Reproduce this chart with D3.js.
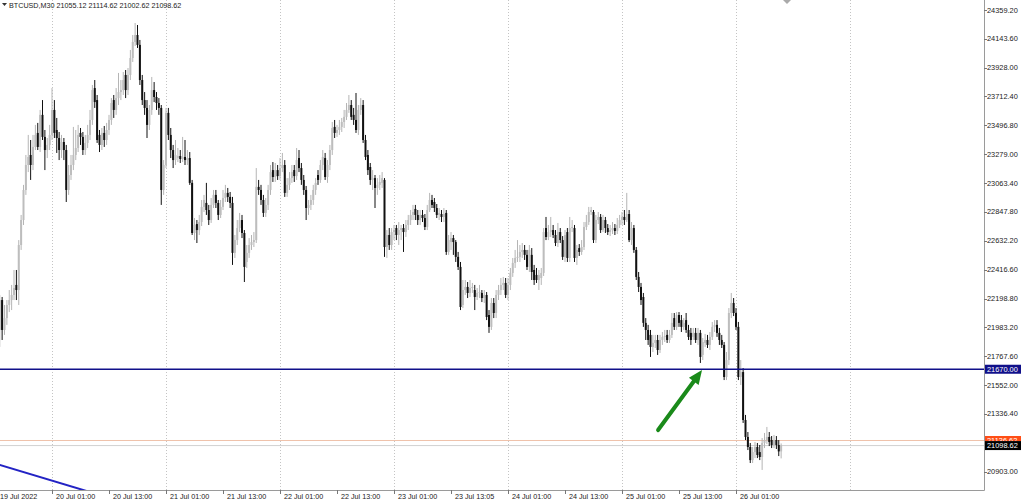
<!DOCTYPE html>
<html>
<head>
<meta charset="utf-8">
<script src="https://cdn.jsdelivr.net/npm/d3@7"></script>
<style>
  html, body { margin: 0; padding: 0; background: #fff; }
  svg { display: block; }
  text { font-family: "Liberation Sans", Arial, sans-serif; }
</style>
</head>
<body>
<div id="chart"></div>
<script>
// BTCUSD M30 candles (bar 0 = left edge)
var opens = [
  21964,22188,21964,22053,22151,22188,22226,22301,22263,22600,22787,23012,23199,23274,23199,23334,23439,23334,23574,23409,
  23311,23349,23424,23611,23461,23401,23311,23371,23311,23012,23124,23199,23274,23326,23439,23409,23311,23364,23424,23536,
  23775,23685,23424,23349,23439,23386,23461,23536,23685,23611,23700,23745,23760,23873,23760,23873,24000,24120,24172,24098,
  23835,23685,23626,23499,23611,23760,23708,23663,23626,23012,23199,23589,23424,23311,23236,23251,23266,23244,23259,23236,
  23251,23065,22690,22757,22712,22772,22885,22915,22862,22787,22900,22975,22915,22825,22885,22952,22990,22960,22915,22541,
  22637,22727,22787,22690,22473,22541,22600,22622,22637,23035,23012,22937,22840,22900,23012,23161,23109,23161,23116,23176,
  23199,22990,23050,23101,23161,23116,23251,23176,23087,23012,22877,22900,22937,23012,23124,23087,23199,23251,23109,23199,
  23311,23484,23439,23461,23484,23521,23559,23611,23648,23574,23536,23461,23611,23648,23386,23274,23184,23087,23101,23027,
  23050,23065,23087,22585,22675,22600,22697,22727,22675,22712,22727,22697,22750,22787,22825,22870,22825,22787,22825,22802,
  22735,22862,22937,22922,22877,22825,22832,22810,22840,22548,22622,22652,22622,22511,22436,22151,22263,22286,22241,22278,
  22263,22211,22241,22241,22203,22226,22076,21987,22166,22091,22226,22263,22301,22316,22226,22301,22391,22466,22503,22511,
  22548,22563,22526,22436,22526,22413,22376,22338,22353,22391,22727,22660,22697,22712,22675,22615,22697,22637,22511,22697,
  22503,22727,22727,22503,22577,22548,22585,22735,22772,22847,22847,22637,22787,22810,22712,22787,22727,22697,22712,22727,
  22705,22750,22787,22810,22787,22832,22637,22727,22563,22361,22286,22211,22017,21964,21927,21837,21867,21889,21814,21889,
  21912,21927,21889,21927,22053,21987,22076,22038,21987,22038,21964,21942,21912,21942,21889,21942,21777,21867,21889,21852,
  21912,21987,22002,21942,21889,21852,21612,21739,22091,22166,22091,21987,21612,21649,21290,21163,21088,20990,21050,21088,
  21050,21013,21118,21140,21163,21140,21103,21140,21103,21055.12
];
var highs = [
  22226,22211,22151,22188,22263,22301,22413,22413,22637,22825,23050,23274,23424,23386,23424,23499,23514,23611,23685,23461,
  23401,23499,23775,23685,23551,23446,23424,23401,23349,23199,23274,23484,23461,23499,23476,23446,23424,23499,23611,23798,
  23835,23723,23461,23476,23491,23514,23574,23700,23723,23775,23888,23835,23895,23910,23925,24060,24172,24262,24247,24135,
  23873,23745,23685,23648,23858,23820,23745,23700,23648,23236,23626,23626,23476,23349,23386,23326,23311,23409,23386,23311,
  23296,23087,22802,22787,22825,22937,22975,23065,22900,22952,23012,23012,22937,22937,23012,23050,23027,22997,22960,22675,
  22787,22840,22825,22712,22600,22652,22675,22697,23176,23087,23050,22975,22952,23050,23199,23221,23214,23199,23251,23289,
  23236,23101,23146,23199,23199,23326,23311,23214,23124,23042,22937,22975,23050,23101,23161,23236,23311,23289,23236,23349,
  23521,23536,23499,23536,23551,23611,23663,23723,23685,23626,23738,23648,23700,23685,23424,23311,23214,23161,23124,23101,
  23124,23146,23101,22712,22727,22727,22750,22750,22772,22750,22757,22787,22825,22862,22900,22900,22862,22862,22862,22832,
  22900,22990,22975,22952,22907,22877,22862,22877,22862,22675,22697,22675,22637,22548,22473,22338,22338,22323,22338,22316,
  22301,22278,22301,22263,22263,22248,22113,22203,22203,22263,22301,22353,22361,22353,22353,22428,22503,22563,22637,22600,
  22615,22600,22563,22600,22577,22451,22428,22413,22428,22727,22810,22750,22810,22750,22712,22765,22727,22667,22712,22727,
  22810,22787,22750,22600,22607,22637,22772,22825,22885,22885,22862,22825,22847,22832,22825,22810,22757,22750,22772,22757,
  22802,22825,22847,22862,22990,22862,22772,22750,22585,22398,22316,22241,22053,22002,21964,21927,21927,21927,21927,21949,
  21964,21964,21964,22091,22091,22098,22098,22076,22053,22091,22002,21979,21979,21979,21979,21964,21904,21934,21927,21949,
  22024,22038,22038,21979,21927,21874,21799,22128,22241,22203,22128,22024,21739,21679,21328,21200,21118,21088,21125,21118,
  21103,21155,21193,21238,21200,21170,21178,21170,21140,21114.62
];
var lows = [
  21837,21889,21927,22002,22098,22113,22188,22188,22151,22563,22750,22975,23146,23087,23161,23311,23311,23296,23386,23161,
  23251,23311,23386,23401,23289,23236,23251,23236,22922,22975,23087,23161,23236,23296,23349,23274,23274,23326,23386,23499,
  23626,23364,23296,23311,23334,23349,23424,23499,23551,23574,23648,23685,23723,23700,23723,23835,23970,24090,24075,23798,
  23648,23574,23401,23461,23574,23670,23611,23574,22900,22975,23176,23386,23251,23176,23199,23221,23214,23221,23199,23199,
  23050,22675,22637,22615,22675,22742,22847,22825,22750,22765,22877,22877,22787,22802,22862,22922,22922,22877,22451,22503,
  22600,22697,22652,22323,22428,22503,22563,22585,22615,22975,22900,22810,22810,22862,22975,23072,23072,23087,23087,23146,
  22960,22960,23012,23065,23072,23087,23146,23050,22975,22787,22825,22862,22900,22975,23050,23065,23161,23087,23065,23161,
  23274,23401,23409,23424,23446,23476,23536,23589,23536,23499,23439,23424,23574,23364,23236,23124,23050,23012,22877,22975,
  23012,23027,22511,22503,22563,22563,22637,22637,22600,22637,22548,22660,22712,22750,22787,22787,22750,22750,22772,22712,
  22712,22847,22877,22847,22802,22787,22772,22772,22526,22526,22563,22526,22473,22413,22113,22128,22226,22203,22211,22241,
  22113,22188,22203,22173,22166,22038,21942,21964,22053,22053,22188,22226,22263,22203,22188,22263,22361,22428,22473,22473,
  22503,22488,22413,22398,22338,22301,22316,22263,22301,22368,22637,22637,22660,22652,22592,22585,22615,22488,22473,22473,
  22473,22697,22473,22451,22518,22526,22563,22712,22750,22825,22615,22615,22757,22690,22697,22690,22675,22667,22682,22675,
  22682,22727,22750,22750,22772,22622,22600,22541,22338,22248,22151,21987,21889,21852,21762,21799,21829,21777,21792,21852,
  21874,21867,21867,21904,21964,21964,21987,21949,21964,21942,21889,21852,21889,21867,21852,21717,21739,21837,21829,21814,
  21889,21949,21912,21852,21829,21589,21589,21702,22053,22068,21964,21589,21552,21268,21140,21065,20968,20968,21005,21005,
  20990,20916,21080,21110,21095,21080,21080,21073,21020,21002.62
];
var closes = [
  22188,21964,22053,22151,22188,22226,22278,22263,22600,22787,23012,23199,23259,23199,23334,23424,23334,23574,23409,23311,
  23349,23424,23611,23439,23401,23311,23371,23311,23012,23124,23199,23274,23326,23424,23409,23311,23364,23424,23536,23760,
  23670,23386,23349,23439,23386,23461,23536,23663,23611,23700,23745,23760,23835,23760,23873,24000,24120,24172,24098,23835,
  23685,23626,23499,23611,23760,23708,23663,23626,23012,23199,23589,23424,23311,23236,23274,23266,23244,23259,23236,23251,
  23065,22690,22750,22712,22772,22885,22937,22862,22787,22900,22975,22915,22825,22885,22952,22990,22960,22915,22541,22637,
  22727,22787,22690,22436,22541,22600,22622,22637,23035,23012,22937,22840,22900,23012,23146,23109,23161,23116,23176,23199,
  22990,23050,23101,23146,23116,23236,23176,23087,23012,22877,22900,22937,23012,23065,23087,23199,23259,23109,23199,23311,
  23476,23439,23461,23484,23521,23559,23611,23648,23559,23536,23461,23611,23648,23386,23259,23161,23087,23101,23027,23050,
  23072,23101,22585,22675,22600,22697,22712,22675,22712,22727,22697,22750,22787,22825,22847,22825,22787,22825,22802,22735,
  22862,22937,22900,22877,22825,22840,22810,22832,22548,22637,22652,22622,22511,22436,22136,22263,22286,22241,22278,22286,
  22211,22241,22248,22203,22226,22061,21987,22166,22091,22226,22263,22301,22316,22226,22301,22391,22466,22503,22511,22548,
  22563,22526,22436,22563,22398,22338,22338,22376,22391,22697,22660,22697,22712,22675,22615,22697,22637,22511,22675,22503,
  22727,22735,22503,22563,22548,22585,22735,22772,22847,22862,22637,22787,22810,22712,22787,22727,22697,22712,22727,22705,
  22750,22787,22810,22787,22832,22637,22727,22563,22361,22286,22188,22017,21964,21889,21837,21867,21889,21814,21889,21912,
  21919,21889,21927,22017,21987,22076,22017,21987,22017,21964,21912,21889,21942,21889,21942,21762,21874,21889,21852,21912,
  21987,22002,21942,21889,21852,21612,21739,22091,22166,22091,21987,21612,21649,21290,21163,21088,20990,21050,21088,21028,
  21013,21118,21140,21163,21125,21103,21140,21103,21055,21098.62
];

// price axis labels (MT4 rounds them unevenly); the one behind the price tags is not shown
var priceTicks = [24359.20, 24143.60, 23928.00, 23712.40, 23496.80, 23279.00, 23063.40, 22847.80, 22632.20,
  22416.60, 22198.80, 21983.20, 21767.60, 21552.00, 21336.40, 20903.00];

// time axis labels and the bar they sit on
var timeLabels = ['19 Jul 2022', '20 Jul 01:00', '20 Jul 13:00', '21 Jul 01:00', '21 Jul 13:00', '22 Jul 01:00',
  '22 Jul 13:00', '23 Jul 01:00', '23 Jul 13:05', '24 Jul 01:00', '24 Jul 13:00', '25 Jul 01:00', '25 Jul 13:00', '26 Jul 01:00'];
var timeLabelBars = [-2, 22, 46, 70, 94, 118, 142, 166, 190, 214, 238, 262, 286, 310];
var dayGridBars = [22, 70, 118, 166, 214, 262, 310, 358];

var levelPrice = 21670.00;
var bidPrice = 21098.62;
var askPrice = 21136.62;
var trendLine = [[0, 20954], [40, 20740]];
var arrowPts = [[277.2, 21215], [295.7, 21664]];

var svgWidth = 1024;
var svgHeight = 501;
var plot = { left: 0, top: 0, right: 984, bottom: 490 };

var svg = d3.select('#chart')
    .append('svg')
    .attr('width', svgWidth)
    .attr('height', svgHeight);

svg.append('rect')
    .attr('width', svgWidth)
    .attr('height', svgHeight)
    .attr('fill', '#fff');

// scales
var barStep = 2.375;
var xScale = d3.scaleLinear()
    .domain([0, 329])
    .range([-0.25, -0.25 + 329 * barStep]);

var yScale = d3.scaleLinear()
    .domain([24434.1, 20766])
    .range([plot.top, plot.bottom]);

var defs = svg.append('defs');
defs.append('clipPath')
    .attr('id', 'plotClip')
    .append('rect')
    .attr('x', plot.left)
    .attr('y', plot.top)
    .attr('width', plot.right - plot.left)
    .attr('height', plot.bottom - plot.top);

var chartGroup = svg.append('g').attr('clip-path', 'url(#plotClip)');

// day grid lines
chartGroup.selectAll('.vgrid')
    .data(dayGridBars)
    .enter()
    .append('line')
    .attr('x1', d => Math.round(xScale(d)) + 0.5)
    .attr('x2', d => Math.round(xScale(d)) + 0.5)
    .attr('y1', plot.top)
    .attr('y2', plot.bottom)
    .attr('stroke', '#c4c4c4')
    .attr('stroke-dasharray', '1,2');

// bid / ask lines
chartGroup.append('line')
    .attr('x1', plot.left).attr('x2', plot.right)
    .attr('y1', yScale(askPrice)).attr('y2', yScale(askPrice))
    .attr('stroke', '#efc2ab')
    .attr('stroke-width', 1);

chartGroup.append('line')
    .attr('x1', plot.left).attr('x2', plot.right)
    .attr('y1', yScale(bidPrice)).attr('y2', yScale(bidPrice))
    .attr('stroke', '#d2d2d2')
    .attr('stroke-width', 1);

// candles
var bars = opens.map(function(o, i) {
    return { i: i, o: o, h: highs[i], l: lows[i], c: closes[i] };
});

var candles = chartGroup.selectAll('.candle')
    .data(bars)
    .enter()
    .append('g');

candles.append('line')
    .attr('x1', d => xScale(d.i))
    .attr('x2', d => xScale(d.i))
    .attr('y1', d => yScale(d.h))
    .attr('y2', d => yScale(d.l))
    .attr('stroke', d => d.c >= d.o ? '#b5b5b5' : '#111')
    .attr('stroke-width', 1);

candles.append('rect')
    .attr('x', d => xScale(d.i) - 1)
    .attr('width', 2)
    .attr('y', d => yScale(Math.max(d.o, d.c)))
    .attr('height', d => Math.max(0.8, yScale(Math.min(d.o, d.c)) - yScale(Math.max(d.o, d.c))))
    .attr('fill', d => d.c >= d.o ? '#bdbdbd' : '#111');

// horizontal level
chartGroup.append('line')
    .attr('x1', plot.left).attr('x2', plot.right)
    .attr('y1', yScale(levelPrice)).attr('y2', yScale(levelPrice))
    .attr('stroke', '#10108a')
    .attr('stroke-width', 1.4);

// trend line
chartGroup.append('line')
    .attr('x1', xScale(trendLine[0][0])).attr('y1', yScale(trendLine[0][1]))
    .attr('x2', xScale(trendLine[1][0])).attr('y2', yScale(trendLine[1][1]))
    .attr('stroke', '#2323c4')
    .attr('stroke-width', 2);

// green arrow
var ax1 = xScale(arrowPts[0][0]), ay1 = yScale(arrowPts[0][1]);
var ax2 = xScale(arrowPts[1][0]), ay2 = yScale(arrowPts[1][1]);
var ang = Math.atan2(ay2 - ay1, ax2 - ax1);
var headLen = 14, headW = 6;
var bx = ax2 - headLen * Math.cos(ang), by = ay2 - headLen * Math.sin(ang);
chartGroup.append('line')
    .attr('x1', ax1).attr('y1', ay1)
    .attr('x2', bx + 2 * Math.cos(ang)).attr('y2', by + 2 * Math.sin(ang))
    .attr('stroke', '#1a8a1a')
    .attr('stroke-width', 4)
    .attr('stroke-linecap', 'round');
chartGroup.append('path')
    .attr('d', 'M' + ax2 + ',' + ay2 +
        'L' + (bx + headW * Math.sin(ang)) + ',' + (by - headW * Math.cos(ang)) +
        'L' + (bx - headW * Math.sin(ang)) + ',' + (by + headW * Math.cos(ang)) + 'Z')
    .attr('fill', '#1a8a1a');

// frame
svg.append('line')
    .attr('x1', plot.right + 0.5).attr('x2', plot.right + 0.5)
    .attr('y1', plot.top).attr('y2', plot.bottom + 0.5)
    .attr('stroke', '#9a9a9a');
svg.append('line')
    .attr('x1', plot.left).attr('x2', plot.right + 0.5)
    .attr('y1', plot.bottom + 0.5).attr('y2', plot.bottom + 0.5)
    .attr('stroke', '#9a9a9a');

// price axis
var fmt = d3.format('.2f');
svg.selectAll('.ptick')
    .data(priceTicks)
    .enter()
    .append('line')
    .attr('x1', plot.right).attr('x2', plot.right + 3)
    .attr('y1', d => Math.round(yScale(d)) + 0.5)
    .attr('y2', d => Math.round(yScale(d)) + 0.5)
    .attr('stroke', '#777');

svg.selectAll('.plabel')
    .data(priceTicks)
    .enter()
    .append('text')
    .attr('x', plot.right + 3)
    .attr('y', d => yScale(d))
    .attr('dy', '0.35em')
    .style('font-size', '7.4px')
    .style('fill', '#222')
    .text(d => fmt(d));

// time axis
svg.selectAll('.xtick')
    .data(timeLabelBars)
    .enter()
    .append('line')
    .attr('x1', d => Math.round(xScale(d)) + 0.5)
    .attr('x2', d => Math.round(xScale(d)) + 0.5)
    .attr('y1', plot.bottom)
    .attr('y2', plot.bottom + 4)
    .attr('stroke', '#777');

svg.selectAll('.xlabel')
    .data(timeLabelBars)
    .enter()
    .append('text')
    .attr('x', (d, i) => Math.max(0, xScale(d) + 4))
    .attr('y', plot.bottom + 9)
    .style('font-size', '7.2px')
    .style('fill', '#222')
    .text((d, i) => timeLabels[i]);

// price tags; the ask tag sits mostly under the bid tag, so only its top strip shows
function priceTag(price, fill, color, visibleH) {
    var y = yScale(price);
    var g = svg.append('g');
    if (visibleH) {
        var id = 'tagClip' + Math.round(price);
        defs.append('clipPath').attr('id', id)
            .append('rect')
            .attr('x', plot.right + 1).attr('y', y - 4.5)
            .attr('width', 36).attr('height', visibleH);
        g.attr('clip-path', 'url(#' + id + ')');
    }
    g.append('rect')
        .attr('x', plot.right + 1)
        .attr('y', y - 4.5)
        .attr('width', 36)
        .attr('height', 9)
        .attr('fill', fill);
    g.append('text')
        .attr('x', plot.right + 3)
        .attr('y', y)
        .attr('dy', '0.35em')
        .style('font-size', '7.4px')
        .style('fill', color)
        .text(fmt(price));
}
priceTag(levelPrice, '#10108a', '#fff');
priceTag(askPrice, '#ff4e16', '#fff', yScale(bidPrice) - yScale(askPrice));
priceTag(bidPrice, '#000', '#fff');

// header
svg.append('path')
    .attr('d', 'M2,3L7,3L4.5,6Z')
    .attr('fill', '#333');
svg.append('text')
    .attr('x', 9)
    .attr('y', 8)
    .style('font-size', '7.2px')
    .style('fill', '#222')
    .text('BTCUSD,M30  21055.12 21114.62 21002.62 21098.62');

// chart shift marker
svg.append('path')
    .attr('d', 'M783,0L791,0L787,4Z')
    .attr('fill', '#aaa');
</script>
</body>
</html>
